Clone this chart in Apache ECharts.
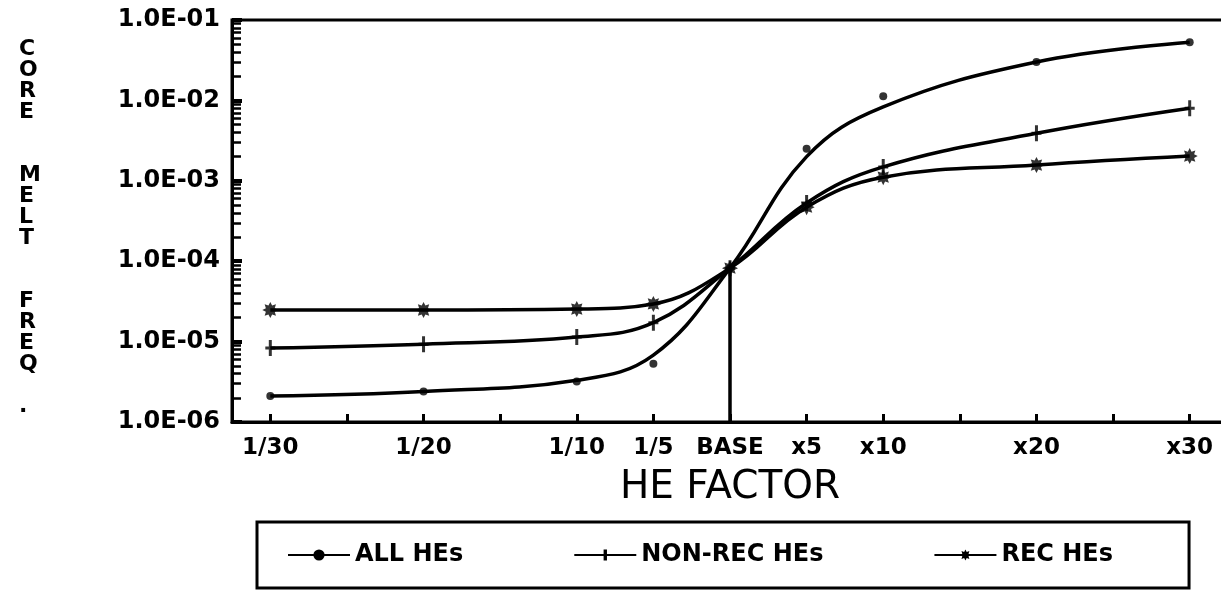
<!DOCTYPE html>
<html>
<head>
<meta charset="utf-8">
<script src="https://cdn.jsdelivr.net/npm/echarts@6.0.0/dist/echarts.min.js"></script>
<style>
  html, body { margin: 0; padding: 0; background: #fff; }
  #chart { width: 1221px; height: 600px; }
</style>
</head>
<body>
<div id="chart"></div>
<script>
// x positions of the HE factor cases (evenly spaced tick slots)
var xPos = [0, 2, 4, 5, 6, 7, 8, 10, 12];
var xLabels = ["1/30", "1/20", "1/10", "1/5", "BASE", "x5", "x10", "x20", "x30"];
var tickVals = [0, 1, 2, 3, 4, 5, 6, 7, 8, 9, 10, 11, 12];
var yLabels = ["1.0E-06", "1.0E-05", "1.0E-04", "1.0E-03", "1.0E-02", "1.0E-01"];

// fitted curves
var allCurve = [2.1e-6, 2.4e-6, 3.3e-6, 6.8e-6, 8.2e-5, 2.0e-3, 8.3e-3, 3.0e-2, 5.3e-2];
var nonRecCurve = [8.3e-6, 9.3e-6, 1.14e-5, 1.72e-5, 8.2e-5, 5.3e-4, 1.49e-3, 3.9e-3, 8.0e-3];
var recCurve = [2.47e-5, 2.47e-5, 2.54e-5, 2.94e-5, 8.2e-5, 4.7e-4, 1.11e-3, 1.57e-3, 2.03e-3];

// plotted points
var allPts = [2.1e-6, 2.4e-6, 3.2e-6, 5.3e-6, 8.2e-5, 2.5e-3, 1.13e-2, 3.0e-2, 5.3e-2];
var nonRecPts = [8.3e-6, 9.3e-6, 1.14e-5, 1.72e-5, 8.2e-5, 5.3e-4, 1.49e-3, 3.9e-3, 8.0e-3];
var recPts = [2.47e-5, 2.47e-5, 2.54e-5, 2.94e-5, 8.2e-5, 4.7e-4, 1.11e-3, 1.57e-3, 2.03e-3];

var names = ["ALL HEs", "NON-REC HEs", "REC HEs"];

var plusPath = "path://M3.5,0 H6.5 V16 H3.5 Z M0,6.5 H10 V9.5 H0 Z";
var starPath = "path://M20,10 L15.54,12.30 L17.07,17.07 L12.30,15.54 L10,20 L7.70,15.54 L2.93,17.07 L4.46,12.30 L0,10 L4.46,7.70 L2.93,2.93 L7.70,4.46 L10,0 L12.30,4.46 L17.07,2.93 L15.54,7.70 Z";

function pairs(vals) {
  return vals.map(function (v, i) { return [xPos[i], v]; });
}

var tickFont = "'DejaVu Sans', sans-serif";

function curve(name, vals, symbol, size) {
  return {
    name: name,
    type: "line",
    data: pairs(vals),
    smooth: 0.4,
    showSymbol: false,
    symbol: symbol,
    symbolSize: size,
    itemStyle: { color: "#000" },
    lineStyle: { color: "#000", width: 3.5 },
    z: 2
  };
}

function points(name, vals, symbol, size) {
  return {
    name: name,
    type: "scatter",
    data: pairs(vals),
    symbol: symbol,
    symbolSize: size,
    itemStyle: { color: "#000" },
    z: 3
  };
}

var myChart = echarts.init(document.getElementById("chart"));
var allLine = curve(names[0], allCurve, "circle", 7);
// vertical line at BASE down to the axis
allLine.markLine = {
  silent: true,
  symbol: "none",
  label: { show: false },
  lineStyle: { color: "#000", width: 3.5, type: "solid" },
  data: [[{ coord: [xPos[4], 1e-6] }, { coord: [xPos[4], allCurve[4]] }]]
};

myChart.setOption({
  animation: false,
  backgroundColor: "#fff",
  grid: {
    left: 232,
    top: 20,
    width: 996,
    bottom: 178,
    outerBoundsMode: "none",
    containLabel: false,
    show: true,
    borderColor: "#000",
    borderWidth: 3
  },
  graphic: [
    {
      type: "text",
      left: 19,
      top: 38,
      style: {
        text: "C\nO\nR\nE\n\n\nM\nE\nL\nT\n\n\nF\nR\nE\nQ\n\n.",
        font: "bold 22px 'DejaVu Sans', sans-serif",
        lineHeight: 21,
        align: "center",
        fill: "#000"
      }
    }
  ],
  legend: {
    data: names,
    left: 257,
    top: 522,
    orient: "horizontal",
    padding: [21, 76, 21, 30],
    itemGap: 110,
    itemWidth: 62,
    itemHeight: 14,
    borderColor: "#000",
    borderWidth: 3,
    textStyle: {
      color: "#000",
      fontFamily: tickFont,
      fontWeight: "bold",
      fontSize: 24
    }
  },
  xAxis: {
    type: "value",
    min: -0.5,
    max: 12.5,
    name: "HE FACTOR",
    nameLocation: "middle",
    nameGap: 46,
    nameTextStyle: {
      color: "#000",
      fontFamily: tickFont,
      fontSize: 39
    },
    axisLine: { show: true, onZero: false, lineStyle: { color: "#000", width: 3 } },
    axisTick: {
      show: true,
      inside: true,
      length: 8,
      customValues: tickVals,
      lineStyle: { color: "#000", width: 3 }
    },
    axisLabel: {
      customValues: xPos,
      margin: 15,
      color: "#000",
      fontFamily: tickFont,
      fontWeight: "bold",
      fontSize: 23,
      formatter: function (v) {
        var i = xPos.indexOf(v);
        return i >= 0 ? xLabels[i] : "";
      }
    },
    splitLine: { show: false }
  },
  yAxis: {
    type: "log",
    logBase: 10,
    min: 1e-6,
    max: 1e-1,
    axisLine: { show: true, onZero: false, lineStyle: { color: "#000", width: 3 } },
    axisTick: {
      show: true,
      inside: true,
      length: 10,
      lineStyle: { color: "#000", width: 4 }
    },
    minorTick: {
      show: true,
      splitNumber: 9,
      length: 9,
      lineStyle: { color: "#000", width: 2.5 }
    },
    axisLabel: {
      margin: 12,
      color: "#000",
      fontFamily: tickFont,
      fontWeight: "bold",
      fontSize: 24,
      formatter: function (v) {
        return yLabels[Math.round(Math.log10(v)) + 6];
      }
    },
    splitLine: { show: false },
    minorSplitLine: { show: false }
  },
  series: [
    allLine,
    curve(names[1], nonRecCurve, plusPath, [10, 16]),
    curve(names[2], recCurve, starPath, 16),
    points(names[0], allPts, "circle", 8),
    points(names[1], nonRecPts, plusPath, [10, 16]),
    points(names[2], recPts, starPath, 16)
  ]
});
</script>
</body>
</html>
